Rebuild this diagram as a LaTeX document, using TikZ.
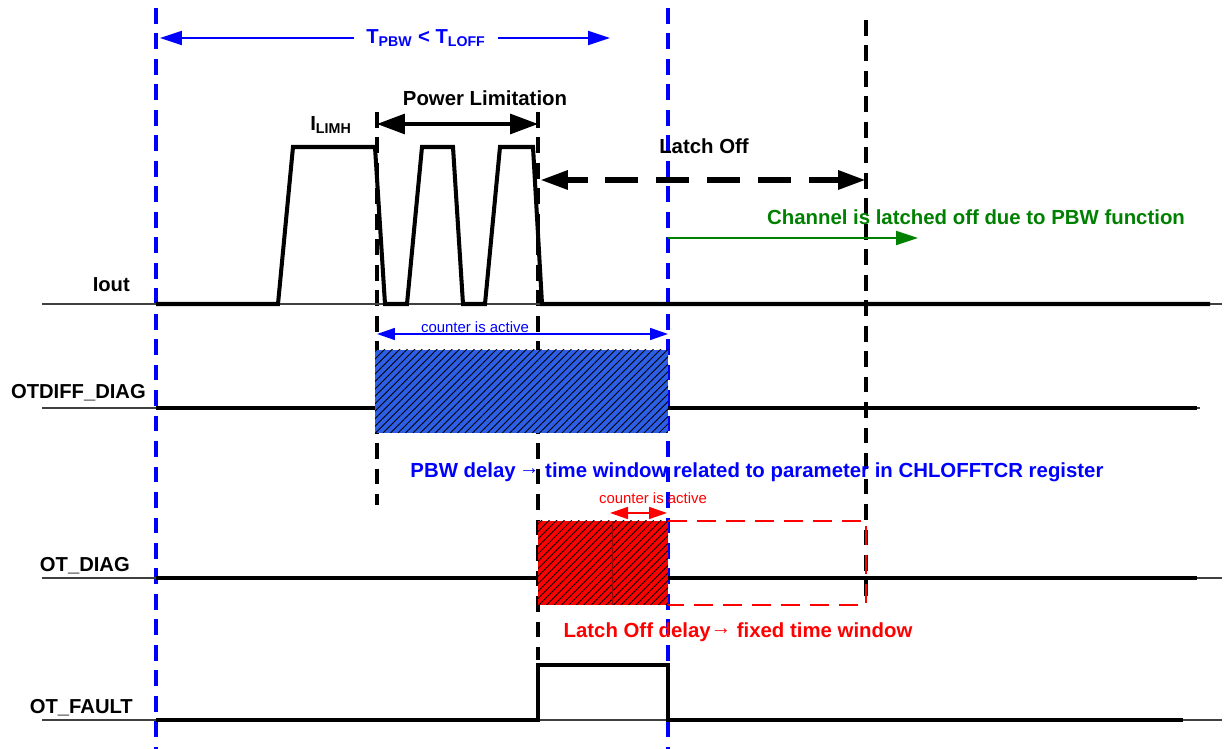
\documentclass[tikz,border=0pt]{standalone}
\usepackage{fontspec}
\setmainfont{Liberation Sans}
\usetikzlibrary{arrows.meta,patterns.meta,positioning}
\definecolor{lineblue}{RGB}{0,0,255}
\definecolor{boxblue}{RGB}{45,95,230}
\definecolor{darkgreen}{RGB}{0,128,0}
\newcommand{\midarrow}{\raisebox{0.28ex}{→}}

\begin{document}
\begin{tikzpicture}[
    x=0.02cm, y=-0.02cm,
    signame/.style={anchor=east, font=\fontsize{11.5}{13}\selectfont\bfseries},
    remark/.style={font=\fontsize{11.6}{13}\selectfont\bfseries},
    tiny/.style={font=\fontsize{8.5}{10}\selectfont},
    wave/.style={line width=2.3pt, line join=miter},
    baseline/.style={line width=0.6pt, black!75},
    vblue/.style={lineblue, line width=1.9pt, dash pattern=on 9pt off 5.5pt},
    vblack/.style={black, line width=1.9pt, dash pattern=on 9pt off 5.5pt},
    hatch/.style={pattern={Lines[angle=45,distance=3pt,line width=0.5pt]}, pattern color=black}
]
    \useasboundingbox (0,0) rectangle (1225,749);

    % time markers
    \coordinate (b1top) at (156,8);   \coordinate (b1bot) at (156,749);
    \coordinate (b2top) at (668,8);   \coordinate (b2bot) at (668,749);
    \coordinate (k1top) at (377,112); \coordinate (k1bot) at (377,505);
    \coordinate (k2top) at (538,112); \coordinate (k2bot) at (538,660);
    \coordinate (k3top) at (866,20);  \coordinate (k3bot) at (866,605);
    \draw[vblue] (b1top) -- (b1bot);
    \draw[vblue] (b2top) -- (b2bot);
    \draw[vblack] (k1top) -- (k1bot);
    \draw[vblack] (k2top) -- (k2bot);
    \draw[vblack] (k3top) -- (k3bot);

    % signal names
    \node[signame] (iout) at (136,285) {Iout};
    \node[signame] (otdiff) at (152,393) {OTDIFF\_DIAG};
    \node[signame] (otdiag) at (136,566) {OT\_DIAG};
    \node[signame] (otfault) at (139,708) {OT\_FAULT};

    % Iout
    \draw[baseline] (42,304) -- (1222,304);
    \draw[wave] (156,304) -- (278,304) -- (293,147) -- (375,147) -- (385,304) -- (407,304)
        -- (422,147) -- (453,147) -- (463,304) -- (485,304) -- (500,147) -- (533,147)
        -- (542,304) -- (1210,304);
    \node[remark] (ilimh) at (331,125) {I\textsubscript{LIMH}};

    % OTDIFF_DIAG
    \draw[baseline] (42,408) -- (1200,408);
    \draw[wave] (156,408) -- (376,408);
    \draw[wave] (668,408) -- (1197,408);
    \fill[boxblue] (375,350) rectangle (668,433);
    \fill[hatch] (375,350) rectangle (668,433);

    % OT_DIAG
    \draw[baseline] (42,578) -- (1222,578);
    \draw[wave] (156,578) -- (539,578);
    \draw[wave] (668,578) -- (1197,578);
    \fill[red] (538,521) rectangle (668,605);
    \fill[hatch] (538,521) rectangle (668,605);
    \draw[red!60!black, line width=0.5pt] (612,521) -- (612,605);
    \draw[red, line width=1.5pt, dash pattern=on 11pt off 5.5pt] (668,521) -- (866,521) -- (866,605) -- (668,605);

    % OT_FAULT
    \draw[baseline] (42,720) -- (1222,720);
    \draw[wave] (156,720) -- (538,720) -- (538,665) -- (668,665) -- (668,720) -- (1183,720);

    % annotations
    \coordinate (tpl) at (160,38);
    \coordinate (tpr) at (610,38);
    \node[lineblue, font=\fontsize{11.5}{13}\selectfont\bfseries, inner xsep=7pt] (tcmp) at (426,38) {T\textsubscript{PBW} < T\textsubscript{LOFF}};
    \draw[lineblue, line width=1.2pt, -{Triangle[length=0.44cm,width=0.28cm]}] (tcmp.west) -- (tpl);
    \draw[lineblue, line width=1.2pt, -{Triangle[length=0.44cm,width=0.28cm]}] (tcmp.east) -- (tpr);

    \node[remark] (pwrlim) at (485,98) {Power Limitation};
    \coordinate (pl1) at (377,124);
    \coordinate (pl2) at (538,124);
    \draw[line width=1.8pt, {Triangle[length=0.56cm,width=0.4cm]}-{Triangle[length=0.56cm,width=0.4cm]}] (pl1) -- (pl2);

    \node[remark] (latchoff) at (704,146) {Latch Off};
    \coordinate (lo1) at (540,180);
    \coordinate (lo2) at (866,180);
    \draw[line width=3.5pt, dash pattern=on 19pt off 10pt, dash phase=-22pt, {Triangle[length=0.56cm,width=0.36cm]}-{Triangle[length=0.56cm,width=0.36cm]}] (lo1) -- (lo2);

    \node[remark, darkgreen] (chnote) at (976,217) {Channel is latched off due to PBW function};
    \coordinate (ch1) at (668,238);
    \coordinate (ch2) at (918,238);
    \draw[darkgreen, line width=1.2pt, -{Triangle[length=0.44cm,width=0.28cm]}] (ch1) -- (ch2);

    \node[tiny, lineblue] (cnt1) at (475,327) {counter is active};
    \coordinate (ca1) at (377,334);
    \coordinate (ca2) at (668,334);
    \draw[lineblue, line width=0.9pt, {Triangle[length=0.36cm,width=0.24cm]}-{Triangle[length=0.36cm,width=0.24cm]}] (ca1) -- (ca2);

    \node[remark, lineblue] (pbwnote) at (757,472) {PBW delay\,\midarrow\ time window related to parameter in CHLOFFTCR register};

    \node[tiny, red] (cnt2) at (653,498) {counter is active};
    \coordinate (cr1) at (610,513);
    \coordinate (cr2) at (667,513);
    \draw[red, line width=0.9pt, {Triangle[length=0.36cm,width=0.24cm]}-{Triangle[length=0.36cm,width=0.24cm]}] (cr1) -- (cr2);

    \node[remark, red] (lonote) at (738,632) {Latch Off delay\midarrow\ fixed time window};
\end{tikzpicture}
\end{document}
